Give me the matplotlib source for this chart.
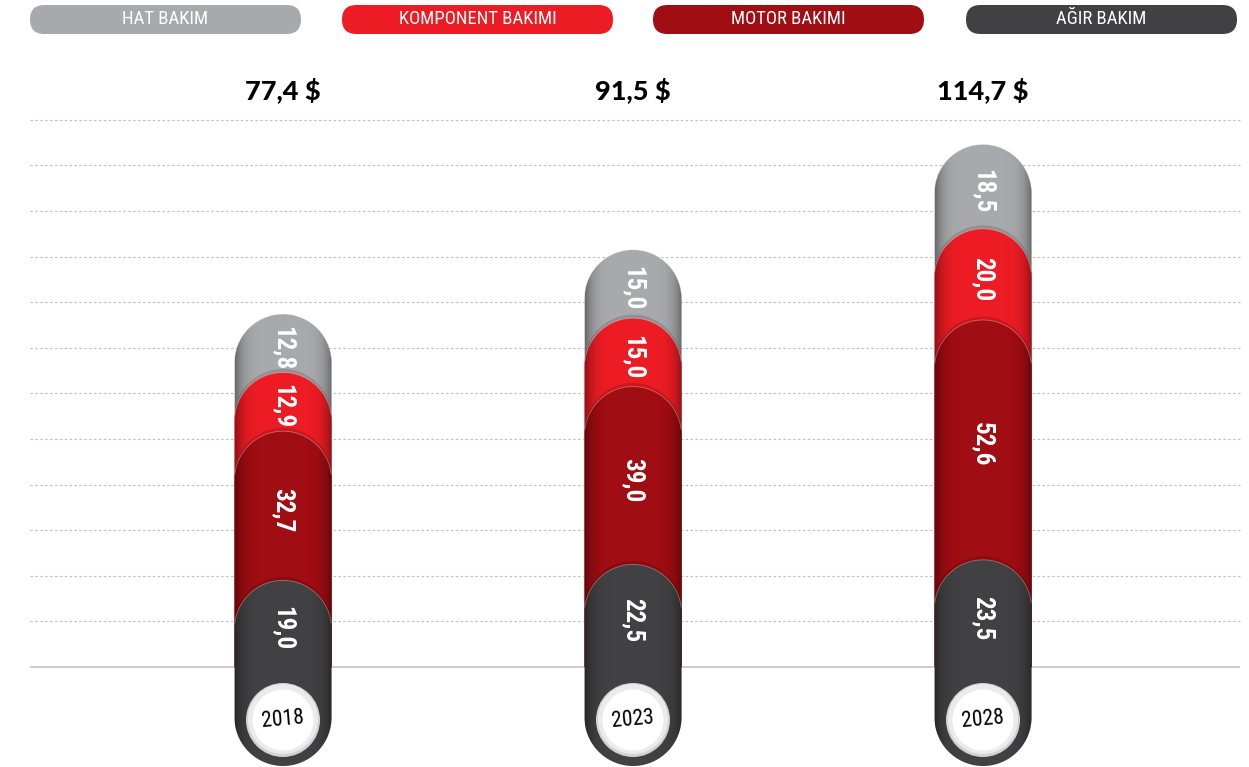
import numpy as np
import matplotlib
matplotlib.use('Agg')
import matplotlib.pyplot as plt
from matplotlib.patches import Polygon, Ellipse, FancyBboxPatch

# ── Data ─────────────────────────────────────────────────────────────────────
years     = ['2018', '2023', '2028']
agir      = [19.0, 22.5, 23.5]      # bottom segment
motor     = [32.7, 39.0, 52.6]
komponent = [12.9, 15.0, 20.0]
hat       = [12.8, 15.0, 18.5]      # top segment
totals    = [77.4, 91.5, 114.7]

legend_labels = ['HAT BAKIM', 'KOMPONENT BAKIMI', 'MOTOR BAKIMI', 'AĞIR BAKIM']
legend_colors = ['#A7A9AC', '#ED1C24', '#A00D12', '#414042']

# stack order bottom -> top, with colours
stack  = [agir, motor, komponent, hat]
scolor = ['#414042', '#A00D12', '#ED1C24', '#A7A9AC']

NARROW = ['Roboto Condensed', 'Open Sans Condensed', 'Liberation Sans Narrow',
          'Roboto', 'DejaVu Sans']

# ── Layout (pixels) ──────────────────────────────────────────────────────────
W, H = 1249, 767
x0_px, x_step = 283, 350       # first bar centre, bar spacing
y0_px, y_scale = 667, 4.56     # baseline row, pixels per unit
half_w = 48.5

fig = plt.figure(figsize=(W / 100, H / 100), dpi=100)
ax = fig.add_axes([0, 0, 1, 1])
ax.axis('off')
ax.set_autoscale_on(False)
ax.set_xlim(-x0_px / x_step, (W - x0_px) / x_step)
ax.set_ylim(-(H - y0_px) / y_scale, y0_px / y_scale)

rx = half_w / x_step
ry = half_w / y_scale


def px2x(p):
    return (p - x0_px) / x_step


def capsule(xc, top, bottom, round_bottom=False):
    t = np.linspace(0, np.pi, 80)
    pts = np.column_stack([xc + rx * np.cos(t), top - ry + ry * np.sin(t)])
    if round_bottom:
        b = np.linspace(np.pi, 2 * np.pi, 80)
        low = np.column_stack([xc + rx * np.cos(b), bottom + ry + ry * np.sin(b)])
    else:
        low = np.array([[xc - rx, bottom], [xc + rx, bottom]])
    return np.vstack([pts, low])


# gridlines + baseline
grid_vals = np.arange(10, 121, 10)
ax.hlines(grid_vals, px2x(30), px2x(1240), colors='#BEBEBE',
          linestyles=(0, (2.2, 2.2)), linewidth=0.8, zorder=1)
ax.hlines(0, px2x(30), px2x(1240), colors='#C8C8C8', linewidth=1.3, zorder=1)

# side shading profile
prof = np.linspace(-1, 1, 120)
shade = np.zeros((1, 120, 4))
shade[..., 3] = 0.38 * np.abs(prof) ** 6

bottom_val = -(766 - y0_px) / y_scale
year_c = -(720 - y0_px) / y_scale

for i, yr in enumerate(years):
    xc = i
    cum = np.cumsum([s[i] for s in stack])
    lows = np.concatenate([[0], cum[:-1]])
    for k in range(len(stack)):
        z = 10 - 2 * k
        top = cum[k]
        is_bottom = (k == 0)
        bot = bottom_val if is_bottom else 0
        # soft shadow cast on the segment above
        if k < len(stack) - 1:
            sh = Polygon(capsule(xc, top + 3.5 / y_scale, 0), closed=True,
                         fc='black', ec='none', alpha=0.14, zorder=z - 0.5)
            ax.add_patch(sh)
        poly = Polygon(capsule(xc, top, bot, round_bottom=is_bottom), closed=True,
                       fc=scolor[k], ec='none', zorder=z)
        ax.add_patch(poly)
        im = ax.imshow(shade, extent=[xc - rx, xc + rx, bot, top + 1],
                       aspect='auto', interpolation='bilinear', zorder=z + 0.1)
        im.set_clip_path(poly)
        # thin highlight on the top arc
        t = np.linspace(0.12, np.pi - 0.12, 60)
        ax.plot(xc + rx * np.cos(t), top - ry + ry * np.sin(t),
                color='white', alpha=0.35, lw=0.6, zorder=z + 0.2)
        lbl = f"{stack[k][i]:.1f}".replace('.', ',')
        ax.text(xc, (lows[k] + top) / 2 - 1.0, lbl, rotation=-90,
                ha='center', va='center', color='white', fontsize=18,
                fontweight='bold', family=NARROW, zorder=20)

    # year badge
    ax.add_patch(Ellipse((xc, year_c), 2 * 37 / x_step, 2 * 37 / y_scale,
                         fc='#D3D3D3', ec='none', zorder=21))
    ax.add_patch(Ellipse((xc, year_c + 1.0 / y_scale), 2 * 35 / x_step, 2 * 35 / y_scale,
                         fc='#EBEBEB', ec='none', zorder=21.5))
    ax.add_patch(Ellipse((xc, year_c), 2 * 30.5 / x_step, 2 * 30.5 / y_scale,
                         fc='white', ec='none', zorder=22))
    ax.text(xc, year_c, yr, rotation=5, ha='center', va='center',
            color='black', fontsize=15.5, family=NARROW, zorder=23)

    # total on top
    ax.text(xc, (y0_px - 90) / y_scale, f"{totals[i]:.1f} $".replace('.', ','),
            ha='center', va='center', color='black', fontsize=19.5,
            fontweight='black', family=['Lato', 'DejaVu Sans'], zorder=23)

# ── Legend pills ─────────────────────────────────────────────────────────────
lax = fig.add_axes([0, 0, 1, 1])
lax.axis('off')
lax.set_xlim(0, W)
lax.set_ylim(H, 0)
pill_x = [30, 342, 653, 966]
for px, lab, col in zip(pill_x, legend_labels, legend_colors):
    lax.add_patch(FancyBboxPatch((px, 5), 271, 29,
                                 boxstyle='round,pad=0,rounding_size=14.5',
                                 fc=col, ec='none'))
    lax.text(px + 135.5, 19.5, lab, ha='center', va='center', color='white',
             fontsize=13.5, family=NARROW)

fig.savefig('out.png', dpi=100)
